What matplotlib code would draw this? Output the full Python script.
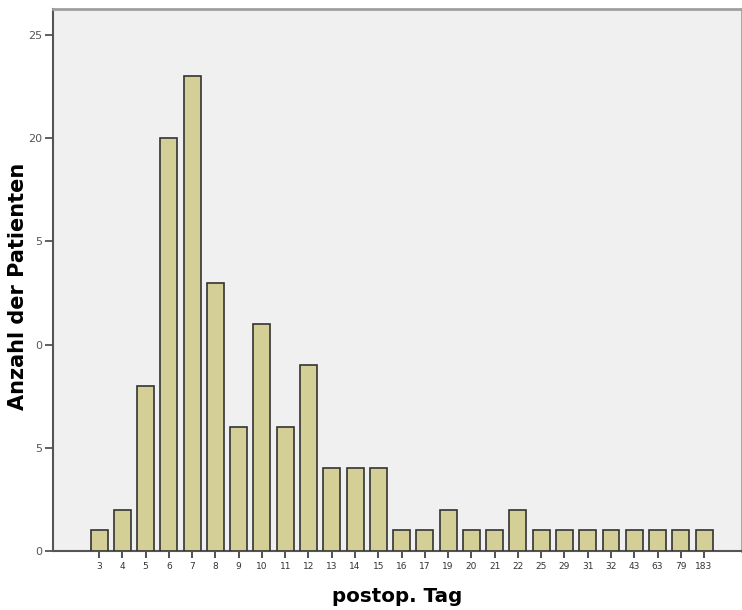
import matplotlib
matplotlib.use("Agg")
import matplotlib.pyplot as plt

categories = ["3", "4", "5", "6", "7", "8", "9", "10", "11", "12", "13", "14", "15",
              "16", "17", "19", "20", "21", "22", "25", "29", "31", "32", "43", "63", "79", "183"]
counts = [1, 2, 8, 20, 23, 13, 6, 11, 6, 9, 4, 4, 4,
          1, 1, 2, 1, 1, 2, 1, 1, 1, 1, 1, 1, 1, 1]
ytick_values = [0, 5, 10, 15, 20, 25]
ytick_labels = ["0", "5", "0", "5", "20", "25"]

fig = plt.figure(figsize=(7.42, 6.10), dpi=100)
ax = fig.add_axes([53/742, 59/610, 1 - 53/742, (551-9)/610])
ax.set_facecolor("#f0f0f0")

x = list(range(len(categories)))
ax.bar(x, counts, width=0.73, color="#d4cf96", edgecolor="#333333", linewidth=1.2, zorder=3)

ax.set_xlim(-1.98, 27.63)
ax.set_ylim(0, 26.26)
ax.set_xticks(x)
ax.set_xticklabels(categories, fontsize=6.5, color="#333333")
ax.set_yticks(ytick_values)
ax.set_yticklabels(ytick_labels, fontsize=8, color="#555555")
ax.tick_params(axis="x", length=5, width=1.2, color="#333333", pad=3)
ax.tick_params(axis="y", length=6, width=1.2, color="#444444", pad=2)

for s in ["top", "right"]:
    ax.spines[s].set_color("#a0a0a0")
    ax.spines[s].set_linewidth(2)
ax.spines["left"].set_color("#555555")
ax.spines["left"].set_linewidth(1.5)
ax.spines["bottom"].set_color("#555555")
ax.spines["bottom"].set_linewidth(1.5)

ax.set_xlabel("postop. Tag", fontsize=14.3, fontweight="bold")
ax.xaxis.set_label_coords((397 - 53) / (742 - 53), -(597 - 551) / (551 - 9))
ax.set_ylabel("Anzahl der Patienten", fontsize=15, fontweight="bold")
ax.yaxis.set_label_coords(-(53 - 18) / (742 - 53), (551 - 286) / (551 - 9))
ax.yaxis.label.set_va("center")
ax.xaxis.label.set_va("center")

fig.savefig("out.png", dpi=100, facecolor="white")
